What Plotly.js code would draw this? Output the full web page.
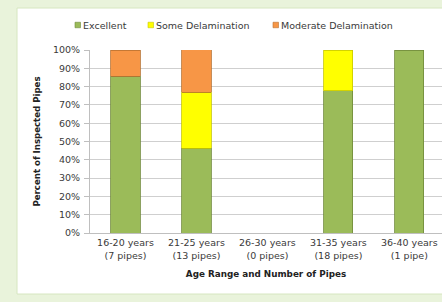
<!DOCTYPE html>
<html><head><meta charset="utf-8">
<script src="https://cdn.plot.ly/plotly-3.0.1.min.js"></script>
<style>html,body{margin:0;padding:0;background:#e9f3db;overflow:hidden}</style>
</head><body><div id="chart" style="width:442px;height:302px"></div>
<script>
const categories = ["16-20 years<br>(7 pipes)", "21-25 years<br>(13 pipes)", "26-30 years<br>(0 pipes)", "31-35 years<br>(18 pipes)", "36-40 years<br>(1 pipe)"];
const seriesNames = ["Excellent", "Some Delamination", "Moderate Delamination"];
const excellent = [0.857, 0.462, 0, 0.778, 1.0];
const someDelam = [0, 0.308, 0, 0.222, 0];
const moderateDelam = [0.143, 0.231, 0, 0, 0];
const yTicks = [0,0.1,0.2,0.3,0.4,0.5,0.6,0.7,0.8,0.9,1.0];
const yTickText = ["0%","10%","20%","30%","40%","50%","60%","70%","80%","90%","100%"];

const colors = ["#9bbb59", "#ffff00", "#f79646"];
const edges = ["#6f8a3a", "#c8c800", "#b8702f"];
const fam = "DejaVu Sans, Verdana, sans-serif";
const font = {family: fam, size: 9.5, color: "#3a3a3a"};
const values = [excellent, someDelam, moderateDelam];
const traces = values.map((v, i) => ({
  type: "bar", name: seriesNames[i], x: categories, y: v.map(d => d === 0 ? null : d), width: 0.41,
  marker: {color: colors[i], line: {color: edges[i], width: 0.8}}
}));

// manual legend (pixel positions converted to paper coords)
const PL = 90, PW = 352, PB = 233, PH = 183;
const px = p => (p - PL) / PW, py = p => (PB - p) / PH;
const legendX = [75, 148, 273];
const legendY = 25;
const shapes = [
  {type: "rect", xref: "paper", yref: "paper", x0: px(17), x1: px(460), y0: py(294), y1: py(8),
    fillcolor: "#ffffff", line: {color: "#d6e6c0", width: 1}, layer: "below"}
];
const annotations = [];
legendX.forEach((lx, i) => {
  shapes.push({type: "rect", xref: "paper", yref: "paper", x0: px(lx), x1: px(lx + 5.5),
    y0: py(legendY + 2.75), y1: py(legendY - 2.75), fillcolor: colors[i], line: {color: edges[i], width: 0.6}});
  annotations.push({xref: "paper", yref: "paper", x: px(lx + 6), y: py(legendY), xanchor: "left", yanchor: "middle",
    text: seriesNames[i], showarrow: false, font: font});
});

const layout = {
  width: 442, height: 302,
  paper_bgcolor: "#e9f3db", plot_bgcolor: "rgba(0,0,0,0)",
  margin: {l: PL, r: 0, t: 50, b: 69},
  barmode: "stack", font: font, showlegend: false,
  xaxis: {type: "category", range: [-0.5, 4.46], showgrid: false, showline: true,
    linecolor: "#bfbfbf", ticks: "", tickfont: font, ticklabelstandoff: 1,
    title: {text: "<b>Age Range and Number of Pipes</b>", font: {family: fam, size: 8.8, color: "#222222"}, standoff: 11}},
  yaxis: {range: [0, 1.0], tickvals: yTicks, ticktext: yTickText, showgrid: true,
    gridcolor: "#cfcfcf", gridwidth: 1, showline: true, linecolor: "#bfbfbf",
    ticks: "outside", ticklen: 5, tickcolor: "#bfbfbf", tickfont: font, zeroline: false,
    ticklabelstandoff: 2,
    title: {text: "<b>Percent of Inspected Pipes</b>", font: {family: fam, size: 8.6, color: "#222222"}, standoff: 10}},
  shapes: shapes, annotations: annotations
};
Plotly.newPlot("chart", traces, layout, {displayModeBar: false, staticPlot: true});
</script></body></html>
